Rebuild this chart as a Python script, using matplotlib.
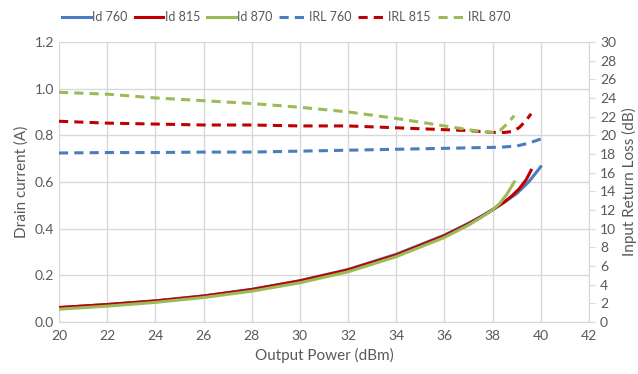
import numpy as np
import matplotlib.pyplot as plt

plt.rcParams['font.family'] = ['Lato', 'DejaVu Sans']

# --------------------
# data
# --------------------

p_760 = [20, 22, 24, 26, 28, 30, 32, 34, 36, 37, 37.5, 38, 38.5, 39, 39.5, 40]
id_760 = [0.062, 0.075, 0.091, 0.112, 0.140, 0.177, 0.225, 0.290, 0.372, 0.423, 0.451, 0.482, 0.514, 0.550, 0.600, 0.665]
irl_760 = [18.1, 18.15, 18.15, 18.2, 18.2, 18.3, 18.4, 18.5, 18.6, 18.65, 18.68, 18.7, 18.75, 18.85, 19.15, 19.6]

p_815 = [20, 22, 24, 26, 28, 30, 32, 34, 36, 37, 37.5, 38, 38.5, 38.8, 39.1, 39.4, 39.6]
id_815 = [0.062, 0.075, 0.090, 0.111, 0.139, 0.176, 0.223, 0.287, 0.369, 0.420, 0.449, 0.480, 0.515, 0.540, 0.570, 0.610, 0.650]
irl_815 = [21.5, 21.3, 21.2, 21.1, 21.1, 21.0, 21.0, 20.8, 20.6, 20.5, 20.4, 20.3, 20.3, 20.4, 20.8, 21.6, 22.3]

p_870 = [20, 22, 24, 26, 28, 30, 32, 34, 36, 37, 37.5, 38, 38.3, 38.6, 38.9]
id_870 = [0.055, 0.068, 0.084, 0.105, 0.132, 0.168, 0.215, 0.280, 0.362, 0.415, 0.446, 0.480, 0.508, 0.548, 0.600]
irl_870 = [24.6, 24.4, 24.0, 23.7, 23.4, 23.0, 22.5, 21.8, 21.0, 20.6, 20.4, 20.3, 20.5, 21.2, 22.1]

blue = '#4a7cc0'
red = '#c00000'
green = '#9bbb59'
grey = '#595959'
grid_c = '#d9d9d9'

# --------------------
# plot
# --------------------

fig = plt.figure(figsize=(6.38, 3.74), dpi=100)
ax = fig.add_axes([0.0925, 0.139, 0.8305, 0.749])
ax2 = ax.twinx()

l1, = ax.plot(p_760, id_760, color=blue, lw=2.2, label='Id 760')
l2, = ax.plot(p_815, id_815, color=red, lw=2.2, label='Id 815')
l3, = ax.plot(p_870, id_870, color=green, lw=2.2, label='Id 870')
l4, = ax2.plot(p_760, irl_760, color=blue, lw=2.2, ls=(0, (3, 2)), label='IRL 760')
l5, = ax2.plot(p_815, irl_815, color=red, lw=2.2, ls=(0, (3, 2)), label='IRL 815')
l6, = ax2.plot(p_870, irl_870, color=green, lw=2.2, ls=(0, (3, 2)), label='IRL 870')

ax.set_xlim(20, 42)
ax.set_ylim(0, 1.2)
ax2.set_ylim(0, 30)
ax.set_xticks(np.arange(20, 43, 2))
ax.set_yticks(np.arange(0, 1.21, 0.2))
ax.set_yticklabels(['%.1f' % v for v in np.arange(0, 1.21, 0.2)])
ax2.set_yticks(np.arange(0, 31, 2))

ax.grid(True, color=grid_c, lw=1)
ax.set_axisbelow(True)

for a in (ax, ax2):
    for s in a.spines.values():
        s.set_visible(False)
    a.tick_params(colors=grey, labelsize=10, length=0)
ax2.spines['right'].set_visible(True)
ax2.spines['right'].set_color(grid_c)
ax.spines['bottom'].set_visible(True)
ax.spines['bottom'].set_color(grid_c)
ax2.tick_params(axis='y', length=4, color=grid_c, pad=4)
ax.tick_params(axis='x', pad=6)

ax.set_xlabel('Output Power (dBm)', color=grey, fontsize=11)
ax.set_ylabel('Drain current (A)', color=grey, fontsize=11)
ax2.set_ylabel('Input Return Loss (dB)', color=grey, fontsize=11)

fig.legend(handles=[l1, l2, l3, l4, l5, l6], loc='upper left',
           bbox_to_anchor=(0.08, 1.0), ncol=6, frameon=False,
           fontsize=9, handlelength=2.3, columnspacing=0.55,
           handletextpad=0.1, labelcolor=grey)

fig.savefig('out.png', dpi=100)
